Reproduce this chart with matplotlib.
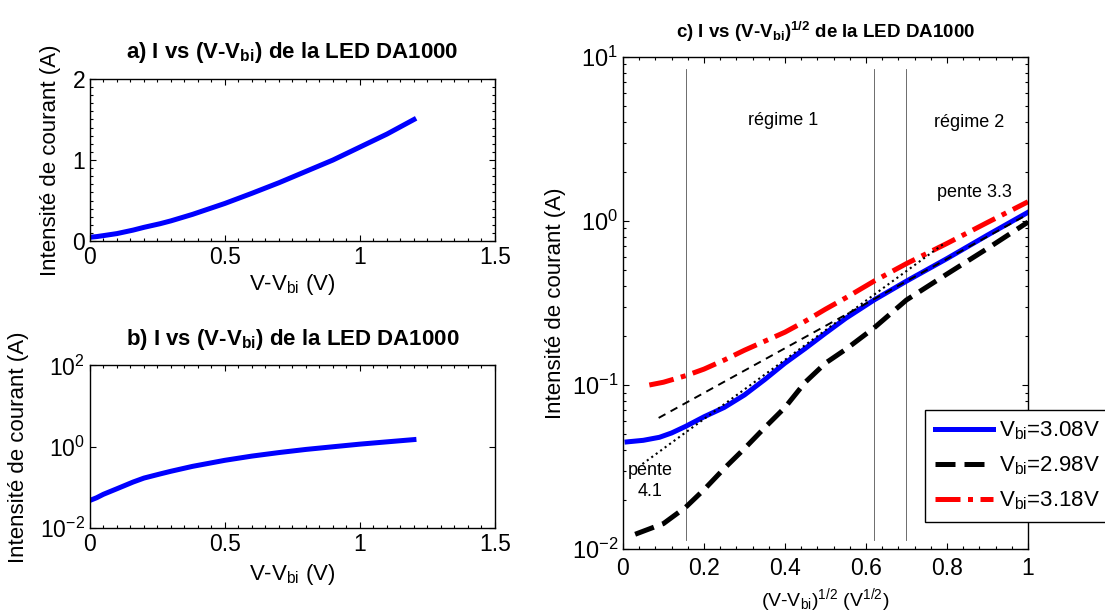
import matplotlib
matplotlib.use("Agg")
import matplotlib.pyplot as plt
from matplotlib.ticker import MultipleLocator, LogLocator, NullFormatter

plt.rcParams['font.family'] = ['Liberation Sans', 'DejaVu Sans']
plt.rcParams['mathtext.default'] = 'regular'

# panels a and b : I vs V-Vbi
v_ab = [0, 0.025, 0.05, 0.1, 0.16, 0.2, 0.26, 0.3, 0.38, 0.5, 0.6, 0.7, 0.8, 0.9, 1.0, 1.1, 1.2]
i_ab = [0.048, 0.056, 0.068, 0.093, 0.136, 0.17, 0.215, 0.25, 0.33, 0.465, 0.59, 0.72, 0.86, 1.0, 1.16, 1.32, 1.5]

# panel c : I vs (V-Vbi)^1/2 for three Vbi
x_blue = [0.01, 0.05, 0.09, 0.12, 0.155, 0.2, 0.25, 0.3, 0.35, 0.4, 0.45, 0.5, 0.55, 0.62, 0.7, 0.8, 0.9, 1.0]
i_blue = [0.045, 0.046, 0.048, 0.051, 0.056, 0.064, 0.073, 0.087, 0.108, 0.136, 0.167, 0.207, 0.255, 0.33, 0.43, 0.59, 0.82, 1.13]
x_black = [0.03, 0.1, 0.155, 0.2, 0.25, 0.3, 0.35, 0.4, 0.45, 0.5, 0.55, 0.62, 0.7, 0.8, 0.9, 1.0]
i_black = [0.0123, 0.0143, 0.018, 0.023, 0.031, 0.041, 0.055, 0.073, 0.104, 0.136, 0.165, 0.223, 0.33, 0.475, 0.68, 0.985]
x_red = [0.065, 0.1, 0.155, 0.2, 0.25, 0.3, 0.35, 0.4, 0.45, 0.5, 0.55, 0.62, 0.7, 0.8, 0.9, 1.0]
i_red = [0.10, 0.104, 0.114, 0.125, 0.142, 0.163, 0.185, 0.21, 0.245, 0.29, 0.34, 0.43, 0.55, 0.73, 0.98, 1.31]
labels = [r'V$_{bi}$=3.08V', r'V$_{bi}$=2.98V', r'V$_{bi}$=3.18V']

# fitted slopes
fit1_x = [0.048, 0.79]
fit1_i = [0.033, 0.72]
fit2_x = [0.088, 1.0]
fit2_i = [0.063, 1.1]

regimes = [0.155, 0.62, 0.70]
regime_span = [0.0114, 8.5]

ab_xticks = [0, 0.5, 1, 1.5]
ab_xlabels = ['0', '0.5', '1', '1.5']
c_xticks = [0, 0.2, 0.4, 0.6, 0.8, 1.0]
c_xlabels = ['0', '0.2', '0.4', '0.6', '0.8', '1']


def matlab_box(ax):
    ax.tick_params(which='both', direction='in', top=True, right=True)
    ax.tick_params(which='major', length=4, width=0.8)
    ax.tick_params(which='minor', length=2, width=0.8)
    for s in ax.spines.values():
        s.set_linewidth(1.0)


fig = plt.figure(figsize=(11.05, 6.12), dpi=100)

# a)
ax1 = fig.add_axes([0.0814, 0.606, 0.3665, 0.265])
ax1.plot(v_ab, i_ab, color='#0000ff', lw=3.6)
ax1.set_xlim(0, 1.5)
ax1.set_ylim(0, 2)
ax1.set_xticks(ab_xticks)
ax1.set_xticklabels(ab_xlabels)
ax1.xaxis.set_minor_locator(MultipleLocator(0.05))
ax1.set_yticks([0, 1, 2])
ax1.yaxis.set_minor_locator(MultipleLocator(0.1))
matlab_box(ax1)
ax1.tick_params(labelsize=16.5)
ax1.set_xlabel(r'V-V$_{bi}$ (V)', fontsize=16, labelpad=2)
ax1.set_ylabel('Intensité de courant (A)', fontsize=16, labelpad=8)
ax1.set_title(r'a) I vs (V-V$_{bi}$) de la LED DA1000', fontsize=16, fontweight='bold', pad=15)

# b)
ax2 = fig.add_axes([0.0814, 0.137, 0.3665, 0.266])
ax2.semilogy(v_ab, i_ab, color='#0000ff', lw=3.6)
ax2.set_xlim(0, 1.5)
ax2.set_ylim(1e-2, 1e2)
ax2.set_xticks(ab_xticks)
ax2.set_xticklabels(ab_xlabels)
ax2.xaxis.set_minor_locator(MultipleLocator(0.05))
ax2.yaxis.set_major_locator(LogLocator(base=100))
ax2.yaxis.set_minor_formatter(NullFormatter())
matlab_box(ax2)
ax2.tick_params(labelsize=16.5)
ax2.set_xlabel(r'V-V$_{bi}$ (V)', fontsize=16, labelpad=4)
ax2.set_ylabel('Intensité de courant (A)', fontsize=16, labelpad=8)
ax2.set_title(r'b) I vs (V-V$_{bi}$) de la LED DA1000', fontsize=16, fontweight='bold', pad=15)

# c)
ax3 = fig.add_axes([0.5638, 0.1029, 0.3665, 0.804])
for xr in regimes:
    ax3.plot([xr, xr], regime_span, color='#555555', lw=0.6)
h1, = ax3.semilogy(x_blue, i_blue, color='#0000ff', lw=3.6)
h2, = ax3.semilogy(x_black, i_black, color='black', lw=3.6, dashes=(4, 1.8))
h3, = ax3.semilogy(x_red, i_red, color='#ff0000', lw=3.6, dashes=(5, 1.5, 1, 1.5))
ax3.semilogy(fit1_x, fit1_i, color='black', lw=1.5, ls=':')
ax3.semilogy(fit2_x, fit2_i, color='black', lw=1.4, dashes=(4, 3))
ax3.set_xlim(0, 1)
ax3.set_ylim(1e-2, 1e1)
ax3.set_xticks(c_xticks)
ax3.set_xticklabels(c_xlabels)
ax3.xaxis.set_minor_locator(MultipleLocator(0.04))
matlab_box(ax3)
ax3.tick_params(axis='y', labelsize=17)
ax3.tick_params(axis='x', labelsize=16.5, pad=6)
ax3.set_xlabel(r'(V-V$_{bi}$)$^{1/2}$ (V$^{1/2}$)', fontsize=14, labelpad=4)
ax3.set_ylabel('Intensité de courant (A)', fontsize=16, labelpad=4)
ax3.set_title(r'c) I vs (V-V$_{bi}$)$^{1/2}$ de la LED DA1000', fontsize=13.5, fontweight='bold', pad=14)

ax3.text(0.396, 4.1, 'régime 1', fontsize=13, ha='center', va='center')
ax3.text(0.855, 4.0, 'régime 2', fontsize=13, ha='center', va='center')
ax3.text(0.869, 1.5, 'pente 3.3', fontsize=13, ha='center', va='center')
ax3.text(0.068, 0.026, 'pente\n4.1', fontsize=13, ha='center', va='center', linespacing=1.3)

leg = ax3.legend([h1, h2, h3], labels, loc='lower left', bbox_to_anchor=(0.746, 0.055),
                 fontsize=16, frameon=True, fancybox=False, framealpha=1,
                 edgecolor='black', handlelength=2.6, borderaxespad=0, labelspacing=0.55,
                 handletextpad=0.27, borderpad=0.45)
leg.get_frame().set_linewidth(1.0)
leg.set_clip_on(False)

fig.savefig('out.png', dpi=100)
